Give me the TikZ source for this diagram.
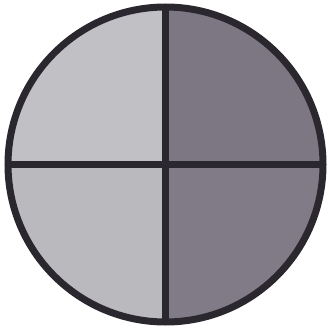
\documentclass[tikz,border=0pt]{standalone}
\usetikzlibrary{calc}
\begin{document}
\begin{tikzpicture}[x=1pt,y=1pt]
\definecolor{qtl}{RGB}{192,192,197}
\definecolor{qtr}{RGB}{124,119,130}
\definecolor{qbl}{RGB}{186,186,190}
\definecolor{qbr}{RGB}{128,123,134}
\definecolor{rim}{RGB}{42,40,46}
\tikzset{rimline/.style={draw=rim,line width=7pt}}
\useasboundingbox (0,0) rectangle (329,327);
\coordinate (c) at (165.5,162.5);
\def\R{157.5}
\fill[qtl] (c) -- ++(180:\R) arc[start angle=180,end angle=90,radius=\R] -- cycle;
\fill[qtr] (c) -- ++(90:\R) arc[start angle=90,end angle=0,radius=\R] -- cycle;
\fill[qbr] (c) -- ++(0:\R) arc[start angle=0,end angle=-90,radius=\R] -- cycle;
\fill[qbl] (c) -- ++(-90:\R) arc[start angle=-90,end angle=-180,radius=\R] -- cycle;
\draw[rimline] ($(c)+(-\R,0)$) -- ($(c)+(\R,0)$);
\draw[rimline] ($(c)+(0,-\R)$) -- ($(c)+(0,\R)$);
\draw[rimline] (c) circle[radius=\R];
\end{tikzpicture}
\end{document}
